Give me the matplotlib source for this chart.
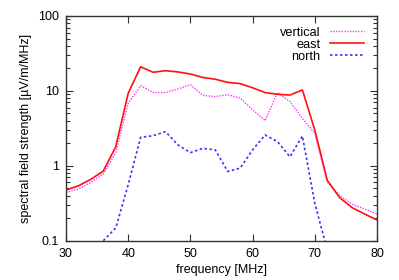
import numpy as np
import matplotlib
matplotlib.use('Agg')
import matplotlib.pyplot as plt
from matplotlib.ticker import LogLocator, NullFormatter, FixedLocator

plt.rcParams['font.family'] = ['Liberation Sans', 'DejaVu Sans']
plt.rcParams['font.size'] = 9

# frequency grid (MHz), one value every 2 MHz
freq = np.arange(30, 81, 2)

# spectral field strength [uV/m/MHz]
vertical = [0.44, 0.49, 0.60, 0.78, 1.5, 6.8, 11.7, 9.5, 9.5, 10.6, 12.1, 8.7, 8.4,
            8.9, 8.0, 5.6, 4.0, 9.5, 7.2, 4.3, 2.7, 0.61, 0.40, 0.306, 0.265, 0.227]
east = [0.475, 0.54, 0.66, 0.85, 1.8, 9.3, 21.0, 17.7, 18.6, 17.9, 16.8, 15.1, 14.3,
        13.0, 12.5, 11.0, 9.5, 9.0, 8.8, 10.3, 3.0, 0.64, 0.375, 0.276, 0.227, 0.189]
north = [np.nan, np.nan, np.nan, 0.1, 0.148, 0.56, 2.4, 2.52, 2.85, 1.9, 1.5, 1.71, 1.63,
         0.84, 0.93, 1.63, 2.58, 2.1, 1.32, 2.5, 0.316, 0.075, np.nan, np.nan, np.nan, np.nan]

fig = plt.figure(figsize=(3.99, 2.80), dpi=100)
ax = fig.add_axes([0.1654, 0.1404, 0.7795, 0.8025])

ax.plot(freq, vertical, color='#ff33ff', linestyle=(0, (1, 1)), linewidth=1.0, label='vertical')
ax.plot(freq, east, color='#ff1010', linestyle='-', linewidth=1.2, label='east')
ax.plot(freq, north, color='#3333ff', linestyle=(0, (1.5, 1.5)), linewidth=1.2, label='north')

ax.set_yscale('log')
ax.set_xlim(30, 80)
ax.set_ylim(0.1, 100)
ax.xaxis.set_major_locator(FixedLocator([30, 40, 50, 60, 70, 80]))
ax.set_yticks([0.1, 1, 10, 100])
ax.set_yticklabels(['0.1', '1', '10', '100'])
ax.yaxis.set_minor_locator(LogLocator(base=10, subs=np.arange(2, 10)))
ax.yaxis.set_minor_formatter(NullFormatter())

ax.tick_params(which='both', direction='in', top=True, right=True, color='#333333')
ax.tick_params(which='major', length=5, width=0.8, pad=5)
ax.tick_params(which='minor', length=3, width=0.8)
for s in ax.spines.values():
    s.set_color('#333333')
    s.set_linewidth(1.0)

ax.set_xlabel('frequency [MHz]', labelpad=3)
ax.set_ylabel('spectral field strength [µV/m/MHz]', labelpad=4)

leg = ax.legend(loc='upper right', bbox_to_anchor=(0.975, 0.975), markerfirst=False,
                frameon=False, handlelength=2.7, handletextpad=0.7, labelspacing=0.0,
                borderaxespad=0.0, fontsize=9.2)
for t in leg.get_texts():
    t.set_ha('right')

fig.savefig('out.png', dpi=100)
